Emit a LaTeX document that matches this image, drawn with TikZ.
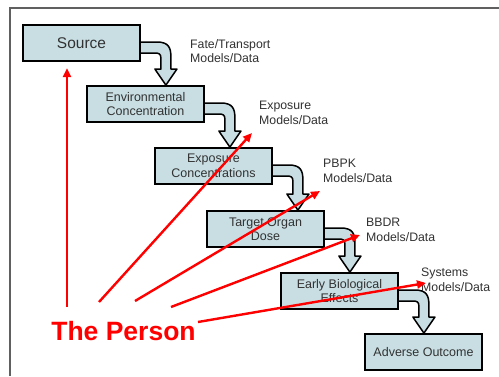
\documentclass[tikz,border=0pt]{standalone}
\usepackage{fontspec}
\setmainfont{Liberation Sans}
\usetikzlibrary{arrows.meta,calc}

\definecolor{boxfill}{RGB}{200,222,227}
\definecolor{inktext}{RGB}{50,50,50}
\definecolor{framegray}{RGB}{96,96,96}

\tikzset{
  stage/.style={draw=black, line width=1.8pt, fill=boxfill, minimum width=117pt,
    minimum height=36pt, inner sep=0pt, align=center, text=inktext,
    font=\fontsize{12.5}{14.5}\selectfont},
  modelnote/.style={anchor=north west, inner sep=0pt, align=left, text=inktext,
    font=\fontsize{12.3}{14.5}\selectfont},
  bendband/.style={draw=black, line width=1.5pt, fill=boxfill, line join=round},
  personlink/.style={draw=red, line width=2.4pt, -{Triangle[length=9pt,width=8pt]}}
}

% curved hollow arrow from the right side of one stage down onto the next
\newcommand\bendarrow[2]{%
  \path[bendband] let \p1=(#1.east), \p2=(#2.north) in
    (\x1-3pt,\y1+1pt) -- (\x1+16pt,\y1+1pt)
    .. controls (\x1+28pt,\y1+1pt) and (\x1+30pt,\y1-5pt) .. (\x1+30pt,\y1-14pt)
    -- (\x1+30pt,\y2+16pt) -- (\x1+36pt,\y2+16pt) -- (\x1+25pt,\y2)
    -- (\x1+14pt,\y2+16pt) -- (\x1+20pt,\y2+16pt) -- (\x1+20pt,\y1-15pt)
    .. controls (\x1+20pt,\y1-11pt) and (\x1+18pt,\y1-10pt) .. (\x1+14pt,\y1-10pt)
    -- (\x1-3pt,\y1-10pt) -- cycle;}

% the six stage boxes; #1 = extra node options (e.g. a name)
\newcommand\stageboxes[1]{%
  \path
    (81.5,333) node[stage, font=\fontsize{15.5}{17}\selectfont, #1=source] {Source}
    (145.5,272) node[stage, #1=envconc] {Environmental\\Concentration}
    (213.5,210) node[stage, #1=expconc] {Exposure\\Concentrations}
    (265.5,147) node[stage, #1=organ] {Target Organ\\Dose}
    (339.5,85) node[stage, #1=early] {Early Biological\\Effects}
    (423.5,24) node[stage, #1=adverse] {Adverse Outcome};}

\begin{document}
\begin{tikzpicture}[x=1pt,y=1pt]
\useasboundingbox (0,0) rectangle (499,376);
\fill[white] (0,0) rectangle (499,376);

% slide frame
\draw[framegray, line width=2pt] (9.5,0) -- (9.5,367.5) -- (499,367.5);

% stage boxes (placed first so the arrows can refer to them)
\stageboxes{name}

% bent arrows between stages
\bendarrow{source}{envconc}
\bendarrow{envconc}{expconc}
\bendarrow{expconc}{organ}
\bendarrow{organ}{early}
\bendarrow{early}{adverse}

% redraw boxes on top of the arrow tails
\stageboxes{alias}

% model annotations
\node[modelnote] (fate) at (190,337) {Fate/Transport\\Models/Data};
\node[modelnote] (expmod) at (259,275) {Exposure\\Models/Data};
\node[modelnote] (pbpk) at (323,217) {PBPK\\Models/Data};
\node[modelnote] (bbdr) at (366,158) {BBDR\\Models/Data};
\node[modelnote] (sysmod) at (421,108) {Systems\\Models/Data};

% the person and the links
\node[text=red, font=\fontsize{26.5}{28}\bfseries\selectfont, inner sep=0pt] (person) at (123.5,45) {The Person};

\coordinate (p1) at (67,69);
\coordinate (p2) at (99,74);
\coordinate (p3) at (135,75);
\coordinate (p4) at (171,69);
\coordinate (p5) at (198,54);
\coordinate (t1) at (67,308);
\coordinate (t2) at (252,243);
\coordinate (t3) at (320,185);
\coordinate (t4) at (360,141);
\coordinate (t5) at (426,93);

\draw[personlink] (p1) -- (t1);
\draw[personlink] (p2) -- (t2);
\draw[personlink] (p3) -- (t3);
\draw[personlink] (p4) -- (t4);
\draw[personlink] (p5) -- (t5);
\end{tikzpicture}
\end{document}
